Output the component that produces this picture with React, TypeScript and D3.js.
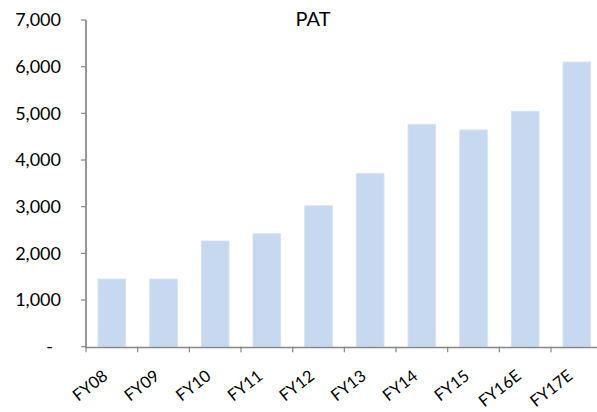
import React from "react";
import * as d3 from "d3";

const categories = ["FY08", "FY09", "FY10", "FY11", "FY12", "FY13", "FY14", "FY15", "FY16E", "FY17E"];
const patValues = [1450, 1450, 2265, 2420, 3020, 3715, 4765, 4645, 5045, 6100];
const yTicks = [0, 1000, 2000, 3000, 4000, 5000, 6000, 7000];
const title = "PAT";

const W = 597;
const H = 412;
const left = 86;
const right = 602.7;
const top = 20;
const bottom = 346.7;

export default function App() {
  const x = d3.scaleBand<string>().domain(categories).range([left, right]).paddingInner(0.464).paddingOuter(0.232);
  const y = d3.scaleLinear().domain([0, 7000]).range([bottom, top]);
  const fmt = d3.format(",");
  const axisColor = "#868686";
  const font = "Lato, 'Open Sans', sans-serif";

  return (
    <svg width={W} height={H} style={{ position: "absolute", left: 0, top: 0, background: "#fff" }}>
      <text x={313} y={25.5} textAnchor="middle" fontFamily={font} fontSize={20} fill="#000">
        {title}
      </text>
      {categories.map((c, i) => (
        <rect
          key={c}
          x={x(c)}
          y={y(patValues[i])}
          width={x.bandwidth()}
          height={y(0) - y(patValues[i])}
          fill="#C6D9F1"
          stroke="#D6E3F4"
          strokeWidth={0.8}
        />
      ))}
      {/* y axis */}
      <line x1={left} x2={left} y1={top} y2={bottom + 1} stroke={axisColor} strokeWidth={1.7} />
      {yTicks.map((t) => (
        <g key={t}>
          <line x1={left - 5} x2={left} y1={y(t)} y2={y(t)} stroke={axisColor} strokeWidth={1.2} />
          <text
            x={t === 0 ? 53 : 61}
            y={y(t)}
            dy="0.35em"
            textAnchor="end"
            fontFamily={font}
            fontSize={18}
            fill="#000"
          >
            {t === 0 ? "-" : fmt(t)}
          </text>
        </g>
      ))}
      {/* x axis */}
      <line x1={left - 1} x2={W} y1={bottom + 0.8} y2={bottom + 0.8} stroke={axisColor} strokeWidth={1.7} />
      {categories.map((c, i) => {
        const tx = left + i * x.step();
        return <line key={c} x1={tx} x2={tx} y1={bottom} y2={bottom + 5.5} stroke={axisColor} strokeWidth={1.2} />;
      })}
      {categories.map((c) => {
        const cx = (x(c) as number) + x.bandwidth() / 2;
        return (
          <text
            key={c}
            transform={`translate(${cx - 3},${378}) rotate(-38)`}
            textAnchor="end"
            fontFamily={font}
            fontSize={16.5}
            fill="#000"
          >
            {c}
          </text>
        );
      })}
    </svg>
  );
}
